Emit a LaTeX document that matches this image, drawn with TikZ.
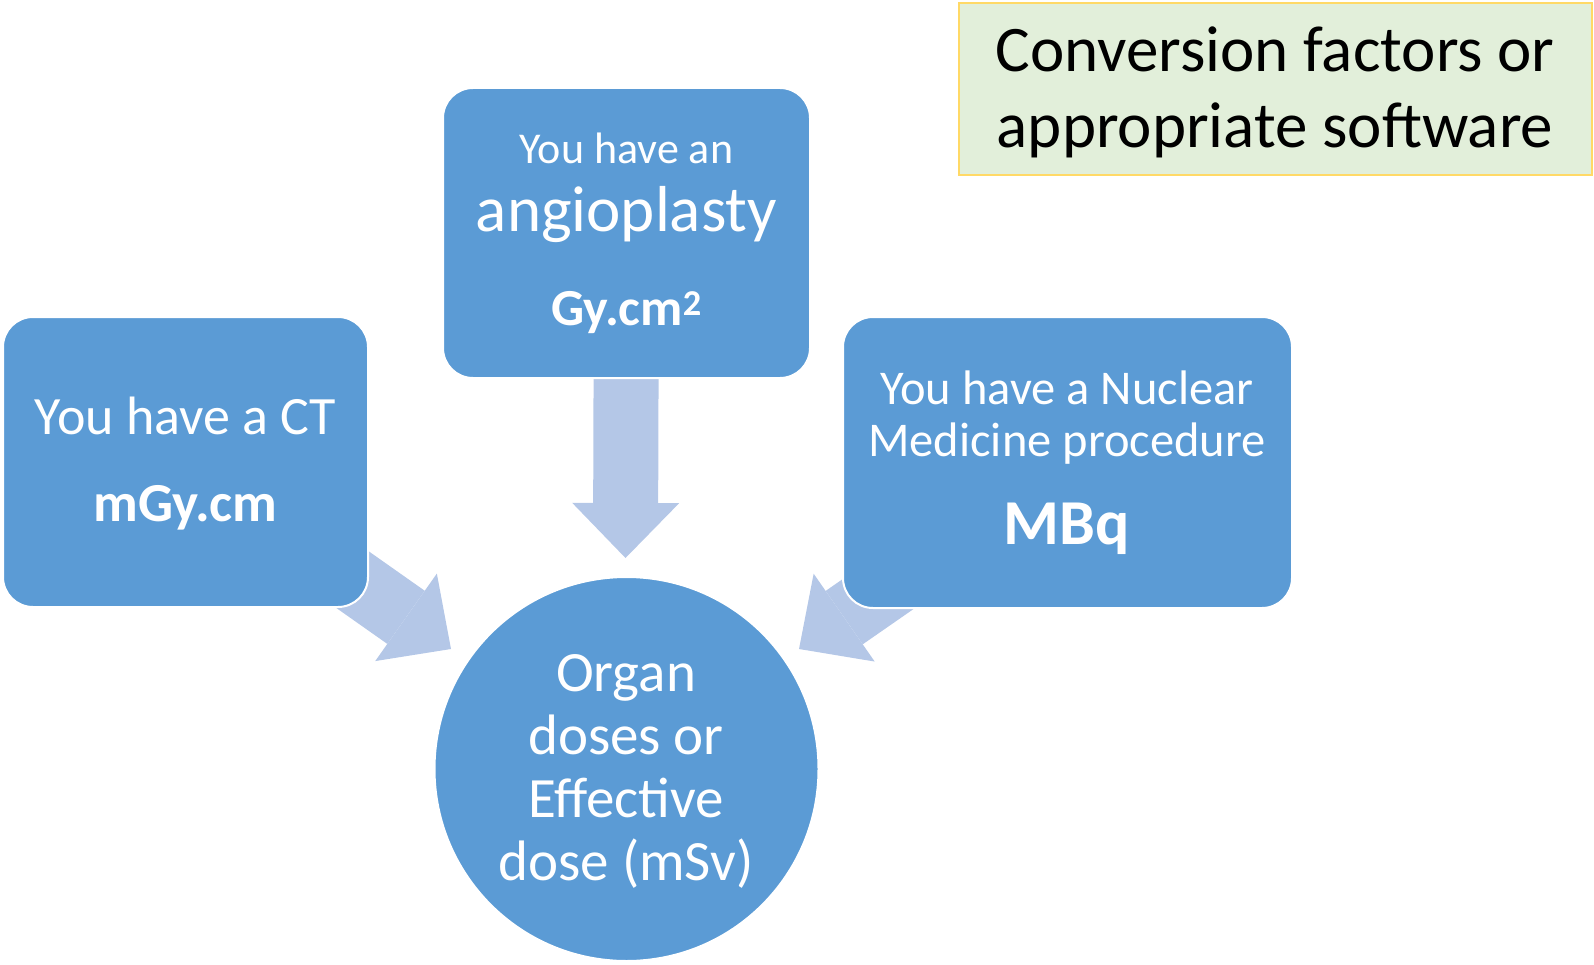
\documentclass[tikz,border=0pt]{standalone}
\usepackage{fontspec}
\setmainfont{Carlito}
\usetikzlibrary{arrows.meta,backgrounds}
\definecolor{boxblue}{HTML}{5B9BD5}
\definecolor{arrowc}{HTML}{B4C7E7}
\definecolor{greenc}{HTML}{E2EFDA}
\definecolor{goldc}{HTML}{FFD966}
\tikzset{
  bluebox/.style={rectangle, rounded corners=30pt, fill=boxblue, draw=white, line width=2pt, inner sep=0pt},
  blockarrow/.style={draw=arrowc, line width=65pt, line cap=butt,
    -{Triangle[width=107pt,length=55pt,line width=0pt,fill=arrowc]}},
  txt/.style={anchor=base, inner sep=0pt, text=white},
  blk/.style={anchor=base, inner sep=0pt, text=black},
}
\begin{document}
\begin{tikzpicture}[x=1pt,y=-1pt]
\path[use as bounding box] (0,0) rectangle (1594,965);
% boxes
\node[bluebox, minimum width=367pt, minimum height=290pt] (angio) at (626.5,233) {};
\node[bluebox, minimum width=365pt, minimum height=290pt] (ct) at (185.5,462) {};
\node[bluebox, minimum width=449pt, minimum height=291pt] (nm) at (1067.5,462.5) {};
\node[circle, fill=boxblue, draw=white, line width=2pt, inner sep=0pt, minimum size=384pt] (dose) at (626.5,769) {};
\node[rectangle, fill=greenc, draw=goldc, line width=2.5pt, inner sep=0pt, minimum width=633pt, minimum height=172pt] (conv) at (1275.5,89) {};
% arrow tips
\coordinate (dtip) at (625.5,558);
\coordinate (ltip) at (451,649);
\coordinate (rtip) at (799,649);
\begin{pgfonlayer}{background}
\draw[blockarrow] (angio.center) -- (dtip);
\draw[blockarrow] (ct.center) -- (ltip);
\draw[blockarrow] (nm.center) -- (rtip);
\end{pgfonlayer}
% texts
\node[txt, font=\fontsize{44}{50}\selectfont] (a1) at (626.5,164) {You have an};
\node[txt, font=\fontsize{65}{70}\selectfont] (a2) at (626.5,232) {angioplasty};
\node[txt, font=\fontsize{52}{58}\selectfont\bfseries] (a3) at (626.5,325) {Gy.cm\textsuperscript{2}};
\node[txt, font=\fontsize{54}{60}\selectfont] (c1) at (185.5,434) {You have a CT};
\node[txt, font=\fontsize{55}{60}\selectfont\bfseries] (c2) at (185.5,521) {mGy.cm};
\node[txt, font=\fontsize{48.5}{54}\selectfont] (n1) at (1067,404) {You have a Nuclear};
\node[txt, font=\fontsize{48.5}{54}\selectfont] (n2) at (1067,456) {Medicine procedure};
\node[txt, font=\fontsize{64}{70}\selectfont\bfseries] (n3) at (1067,544) {MBq};
\node[txt, font=\fontsize{57}{63}\selectfont] (d1) at (626,691) {Organ};
\node[txt, font=\fontsize{57}{63}\selectfont] (d2) at (626,754) {doses or};
\node[txt, font=\fontsize{57}{63}\selectfont] (d3) at (626,817) {Effective};
\node[txt, font=\fontsize{57}{63}\selectfont] (d4) at (626,880) {dose (mSv)};
\node[blk, font=\fontsize{65}{70}\selectfont] (v1) at (1275,72) {Conversion factors or};
\node[blk, font=\fontsize{65}{70}\selectfont] (v2) at (1275,148) {appropriate software};
\end{tikzpicture}
\end{document}
